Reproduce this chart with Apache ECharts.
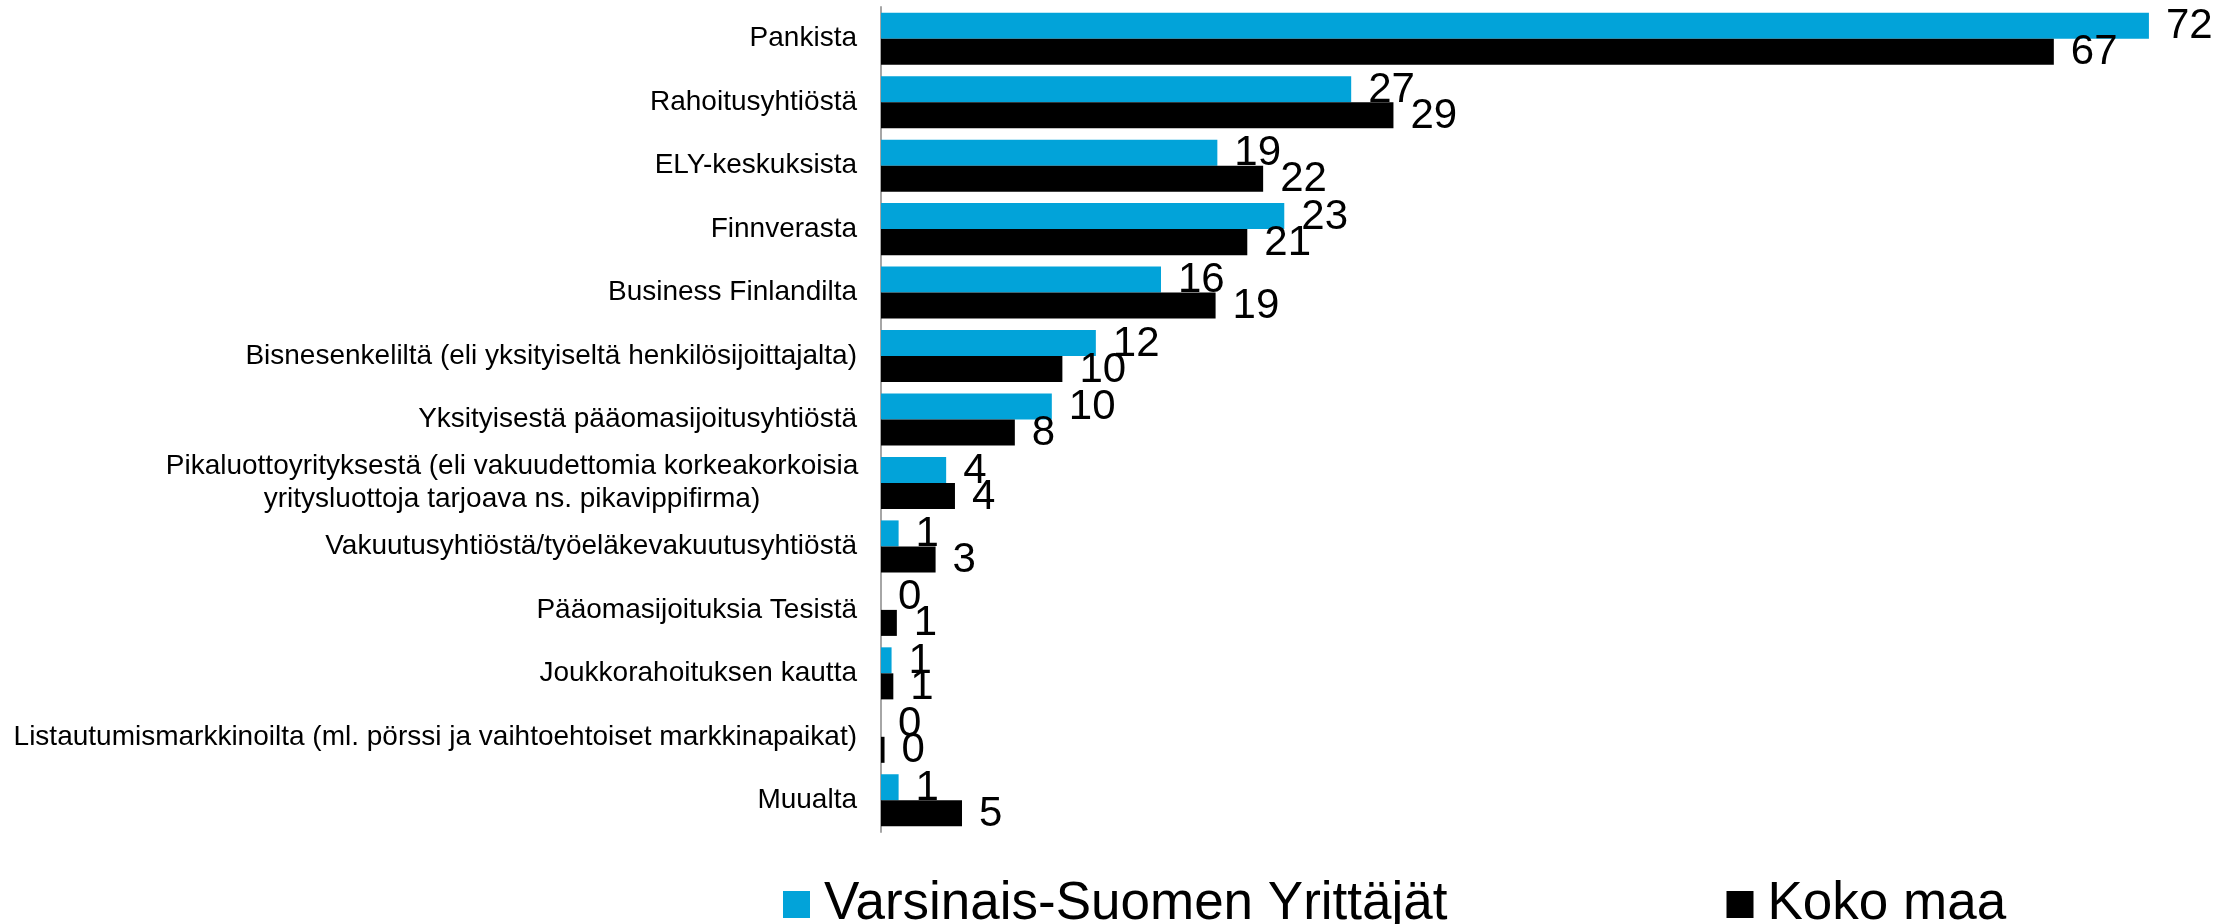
<!DOCTYPE html>
<html>
<head>
<meta charset="utf-8">
<script src="https://cdn.jsdelivr.net/npm/echarts@6/dist/echarts.min.js"></script>
<style>html,body{margin:0;padding:0;background:#fff;}#c{width:2223px;height:924px;}</style>
</head>
<body>
<div id="c"></div>
<script>
const categories = [
  "Pankista",
  "Rahoitusyhtiöstä",
  "ELY-keskuksista",
  "Finnverasta",
  "Business Finlandilta",
  "Bisnesenkeliltä (eli yksityiseltä henkilösijoittajalta)",
  "Yksityisestä pääomasijoitusyhtiöstä",
  "Pikaluottoyrityksestä (eli vakuudettomia korkeakorkoisia\nyritysluottoja tarjoava ns. pikavippifirma)",
  "Vakuutusyhtiöstä/työeläkevakuutusyhtiöstä",
  "Pääomasijoituksia Tesistä",
  "Joukkorahoituksen kautta",
  "Listautumismarkkinoilta (ml. pörssi ja vaihtoehtoiset markkinapaikat)",
  "Muualta"
];
const seriesNames = ["Varsinais-Suomen Yrittäjät", "Koko maa"];
const varsinaisSuomi = [72.0, 26.7, 19.1, 22.9, 15.9, 12.2, 9.7, 3.7, 1.0, 0, 0.6, 0, 1.0];
const kokoMaa = [66.6, 29.1, 21.7, 20.8, 19.0, 10.3, 7.6, 4.2, 3.1, 0.9, 0.7, 0.2, 4.6];
const xMax = 75;

const chart = echarts.init(document.getElementById('c'));
const FONT = 'Liberation Sans, Arial, sans-serif';
const labelCfg = {
  show: true,
  position: 'right',
  distance: 17,
  offset: [0, 1],
  color: '#000',
  fontFamily: FONT,
  fontSize: 42,
  formatter: p => String(Math.round(p.value))
};
chart.setOption({
  animation: false,
  backgroundColor: '#fff',
  textStyle: { fontFamily: FONT },
  grid: { left: 881, top: 7, height: 825, width: 1320.75, containLabel: false },
  xAxis: [
    { type: 'value', min: 0, max: xMax, show: false },
    { type: 'value', min: 0, max: xMax, show: false }
  ],
  yAxis: [
    {
      type: 'category',
      data: categories,
      inverse: true,
      axisTick: { show: false },
      axisLine: { show: true, lineStyle: { color: '#A6A6A6', width: 2 } },
      axisLabel: {
        margin: 24,
        color: '#000',
        fontSize: 28,
        lineHeight: 33,
        fontFamily: FONT,
        formatter: v => {
          if (v.indexOf('\n') >= 0) {
            return v.split('\n').map(s => '{c|' + s + '}').join('\n');
          }
          return v;
        },
        rich: {
          c: { width: 690, align: 'center', fontSize: 28, lineHeight: 33, color: '#000', fontFamily: FONT }
        }
      }
    },
    { type: 'category', data: categories, inverse: true, show: false }
  ],
  legend: {
    data: seriesNames,
    left: 778,
    top: 873,
    itemGap: 279,
    itemWidth: 27,
    itemHeight: 27,
    icon: 'rect',
    textStyle: { fontSize: 53, lineHeight: 53, color: '#000', padding: [0, 0, 0, 9], fontFamily: FONT }
  },
  series: [
    {
      name: seriesNames[0], type: 'bar', data: varsinaisSuomi,
      itemStyle: { color: '#02A3D9' },
      barGap: '0%', barCategoryGap: '18%'
    },
    {
      name: seriesNames[1], type: 'bar', data: kokoMaa,
      itemStyle: { color: '#000000' },
      barGap: '0%', barCategoryGap: '18%'
    },
    {
      name: 'labels-a', type: 'bar', data: varsinaisSuomi,
      xAxisIndex: 1, yAxisIndex: 1, z: 10, silent: true,
      itemStyle: { color: 'rgba(0,0,0,0)' },
      barGap: '0%', barCategoryGap: '18%',
      label: labelCfg
    },
    {
      name: 'labels-b', type: 'bar', data: kokoMaa,
      xAxisIndex: 1, yAxisIndex: 1, z: 10, silent: true,
      itemStyle: { color: 'rgba(0,0,0,0)' },
      barGap: '0%', barCategoryGap: '18%',
      label: labelCfg
    }
  ]
});
</script>
</body>
</html>
